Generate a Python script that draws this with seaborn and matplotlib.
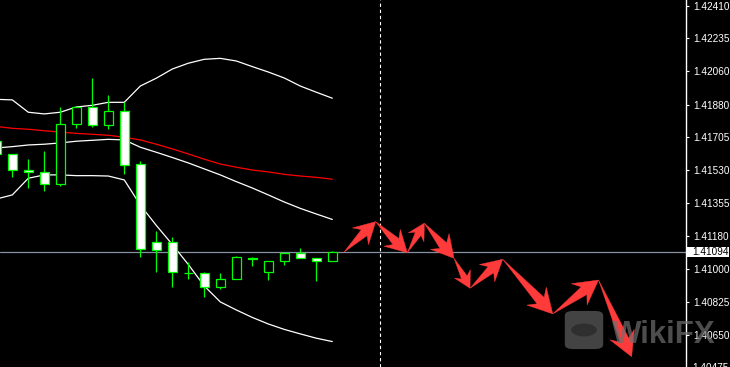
import numpy as np
import pandas as pd
import matplotlib
matplotlib.use("Agg")
import matplotlib.pyplot as plt
import seaborn as sns
from matplotlib.patches import Polygon, Rectangle, FancyBboxPatch, Circle

# ---------------- data ----------------
bar_index = list(range(-1, 21))
opens = [1.41686, 1.41615, 1.41531, 1.41519, 1.41455, 1.41775, 1.41867, 1.41770,
         1.41845, 1.41562, 1.41145, 1.41145, 1.40981, 1.40979, 1.40904, 1.40947,
         1.41059, 1.40988, 1.41047, 1.41086, 1.41059, 1.41043]
highs = [1.41702, 1.41617, 1.41590, 1.41633, 1.41867, 1.41868, 1.42023, 1.41932,
         1.41893, 1.41581, 1.41205, 1.41172, 1.41038, 1.40988, 1.40979, 1.41072,
         1.41066, 1.41043, 1.41086, 1.41114, 1.41059, 1.41098]
lows = [1.41601, 1.41494, 1.41435, 1.41421, 1.41447, 1.41754, 1.41763, 1.41749,
        1.41508, 1.41068, 1.40988, 1.40908, 1.40950, 1.40854, 1.40894, 1.40947,
        1.41018, 1.40945, 1.41025, 1.41059, 1.40940, 1.41043]
closes = [1.41617, 1.41531, 1.41521, 1.41455, 1.41777, 1.41867, 1.41770, 1.41845,
          1.41557, 1.41107, 1.41102, 1.40985, 1.40981, 1.40904, 1.40947, 1.41066,
          1.41054, 1.41043, 1.41086, 1.41059, 1.41043, 1.41092]

bb_upper = [1.41909, 1.41906, 1.41840, 1.41831, 1.41840, 1.41868, 1.41877, 1.41893,
            1.41893, 1.41980, 1.42022, 1.42071, 1.42102, 1.42123, 1.42128, 1.42114,
            1.42084, 1.42055, 1.42023, 1.41980, 1.41947, 1.41915]
bb_middle = [1.41649, 1.41656, 1.41665, 1.41669, 1.41676, 1.41685, 1.41690, 1.41695,
             1.41692, 1.41653, 1.41626, 1.41598, 1.41569, 1.41537, 1.41505, 1.41469,
             1.41435, 1.41398, 1.41360, 1.41326, 1.41296, 1.41267]
bb_lower = [1.41376, 1.41398, 1.41487, 1.41505, 1.41505, 1.41501, 1.41501, 1.41499,
            1.41478, 1.41344, 1.41235, 1.41133, 1.41026, 1.40911, 1.40826, 1.40783,
            1.40743, 1.40708, 1.40679, 1.40655, 1.40632, 1.40614]
ma_red = [1.41764, 1.41754, 1.41749, 1.41741, 1.41734, 1.41727, 1.41722, 1.41717,
          1.41706, 1.41692, 1.41669, 1.41644, 1.41617, 1.41589, 1.41563, 1.41546,
          1.41531, 1.41521, 1.41508, 1.41499, 1.41492, 1.41482]

price_ticks = [1.42410, 1.42235, 1.42060, 1.41880, 1.41705, 1.41530,
               1.41355, 1.41180, 1.41000, 1.40825, 1.40650]
price_tick_labels = ["1.42410", "1.42235", "1.42060", "1.41880", "1.41705", "1.41530",
                     "1.41355", "1.41180", "1.41000", "1.40825", "1.40650"]
bottom_tick = 1.40475
bottom_tick_label = "1.40475"
current_price = 1.41094
current_label = "1.41094"
divider_bar = 23

arrow_x = [20.73, 22.71, 24.69, 25.75, 27.61, 28.61, 30.65, 33.78, 36.64, 38.71]
arrow_y = [1.41092, 1.41255, 1.41089, 1.41247, 1.41059, 1.40899, 1.41054, 1.40762,
           1.40943, 1.40533]
watermark = "WikiFX"

# ---------------- style ----------------
W, H = 730, 367
sns.set_theme(style="dark")
plt.rcParams["font.family"] = ["Liberation Sans", "DejaVu Sans"]

fig = plt.figure(figsize=(W / 100, H / 100), dpi=100, facecolor="black")
ax = fig.add_axes([0, 0, 686 / W, 1])
ax.set_facecolor("black")

GREEN = "#00ff00"

# Bollinger bands + MA via seaborn
df = pd.DataFrame({"bar": bar_index, "upper": bb_upper, "middle": bb_middle,
                   "lower": bb_lower, "ma": ma_red})
for col, colr in [("upper", "white"), ("middle", "white"), ("lower", "white"), ("ma", "#ff0000")]:
    sns.lineplot(data=df, x="bar", y=col, ax=ax, color=colr, linewidth=0.9, zorder=2)

# Candles
cdf = pd.DataFrame({"bar": bar_index, "open": opens, "high": highs, "low": lows, "close": closes})
ax.vlines(cdf["bar"], cdf["low"], cdf["high"], color=GREEN, linewidth=0.9, zorder=3)
bottoms = np.minimum(cdf["open"], cdf["close"])
heights = np.abs(cdf["close"] - cdf["open"])
fills = ["white" if c < o else "black" for o, c in zip(opens, closes)]
ax.bar(cdf["bar"], heights, bottom=bottoms, width=0.57, color=fills,
       edgecolor=GREEN, linewidth=0.9, zorder=4)

# current price line and divider
ax.axhline(current_price, color="#8491a0", linewidth=0.9, zorder=1)
ax.axvline(divider_bar, color="white", linewidth=0.8, linestyle=(0, (3, 2.5)), zorder=1)

# limits
x_left = -12.3 / 16
x_right = (686 - 12.3) / 16
ax.set_xlim(x_left, x_right)
ax.set_ylim(1.40478, 1.42440)

# axis styling
for s in ["left", "top", "bottom"]:
    ax.spines[s].set_visible(False)
ax.spines["right"].set_color("white")
ax.spines["right"].set_linewidth(1.0)
ax.set_xticks([])
ax.set_xlabel("")
ax.set_ylabel("")
ax.yaxis.tick_right()
ax.set_yticks(price_ticks)
ax.set_yticklabels(price_tick_labels)
ax.tick_params(axis="y", colors="white", length=2, width=0.8, pad=3.5,
               labelsize=7.2, labelcolor="white", right=True, left=False)
ax.grid(False)

ytr = ax.get_yaxis_transform()
ax.text(1 + 6.5 / 686, bottom_tick, bottom_tick_label, transform=ytr, color="white",
        fontsize=7.2, va="center", ha="left", clip_on=False)

# current price box
px = (1.42440 - 1.40478) / H
ax.add_patch(Rectangle((1 + 1.3 / 686, current_price - 5 * px), 42 / 686, 10 * px,
                       transform=ytr, facecolor="white", edgecolor="none",
                       clip_on=False, zorder=5))
ax.text(1 + 6.5 / 686, current_price, current_label, transform=ytr, color="black",
        fontsize=7.2, va="center", ha="left", clip_on=False, zorder=6)

# red arrows (drawn in pixel geometry from data points)
fig.canvas.draw()
tr = ax.transData
inv = tr.inverted()
pts = tr.transform(np.column_stack([arrow_x, arrow_y]))
for i in range(len(pts) - 1):
    S, E = pts[i], pts[i + 1]
    v = E - S
    L = np.hypot(*v)
    u = v / L
    n = np.array([-u[1], u[0]])
    hl = min(24.0, 0.48 * L)
    hw = 0.55 * hl
    nw = 0.36 * hw
    poly = [S,
            E - u * 0.75 * hl + n * nw,
            E - u * hl + n * hw,
            E,
            E - u * hl - n * hw,
            E - u * 0.75 * hl - n * nw]
    poly = inv.transform(np.array(poly))
    ax.add_patch(Polygon(poly, closed=True, facecolor="#ff3a3a", edgecolor="#ff3a3a",
                         linewidth=0.3, zorder=7, clip_on=False))

# watermark
ft = fig.transFigure
fig.patches.append(FancyBboxPatch((567 / W, 1 - 348 / H), 34 / W, 36 / H,
                                  boxstyle="round,pad=0.003,rounding_size=0.012",
                                  transform=ft, facecolor="#5a5a5a", edgecolor="none",
                                  alpha=0.75, zorder=10))
fig.patches.append(Circle((584 / W, 1 - 330 / H), 0.0175, transform=ft,
                          facecolor="#2a2a2a", edgecolor="none", alpha=0.8, zorder=11))
fig.text(612 / W, 1 - 343 / H, watermark, transform=ft, color="#6e6e6e", alpha=0.7,
         fontsize=22.5, fontweight="bold", ha="left", va="baseline", zorder=12)

fig.savefig("out.png", dpi=100, facecolor="black")
